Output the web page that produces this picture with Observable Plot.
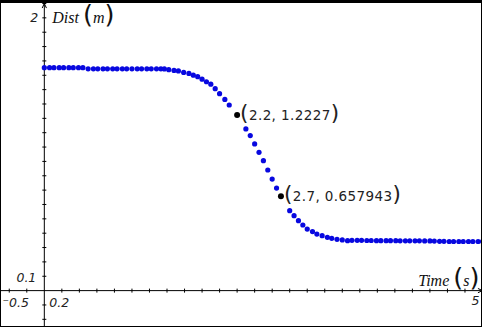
<!DOCTYPE html>
<html><head><meta charset="utf-8">
<script src="https://cdn.jsdelivr.net/npm/d3@7"></script>
<script src="https://cdn.jsdelivr.net/npm/@observablehq/plot@0.6"></script>
<style>
html,body{margin:0;padding:0;background:#fff;}
#wrap{position:relative;width:482px;height:327px;overflow:hidden;}
#frame{position:absolute;left:0;top:0;right:0;bottom:0;border:1px solid #000;border-top:3px solid #000;pointer-events:none;}
</style></head><body><div id="wrap"><div id="chart"></div><div id="frame"></div></div>
<script>
// Motion-detector samples: time (s) and distance (m)
const time = [0, 0.06, 0.11, 0.17, 0.22, 0.28, 0.33, 0.39, 0.44,
  0.5, 0.56, 0.61, 0.67, 0.72, 0.78, 0.83, 0.89, 0.94, 1.0, 1.06, 1.11, 1.17, 1.22, 1.28, 1.33, 1.37,
  1.42, 1.48, 1.53, 1.59, 1.65, 1.70, 1.75, 1.80, 1.85, 1.90, 1.95, 2.00, 2.06, 2.11,
  2.30, 2.35, 2.40, 2.45, 2.50, 2.55, 2.60, 2.65,
  2.80, 2.85, 2.90, 2.95, 3.00, 3.06, 3.11, 3.17, 3.23, 3.28, 3.34, 3.40, 3.46,
  3.51, 3.57, 3.62, 3.68, 3.73, 3.79, 3.84, 3.90, 3.95, 4.01, 4.06, 4.12, 4.17, 4.23, 4.28, 4.34, 4.40,
  4.45, 4.51, 4.56, 4.62, 4.67, 4.73, 4.78, 4.84, 4.89, 4.95, 5.00];
const dist = [1.553, 1.553, 1.553, 1.553, 1.553, 1.553, 1.553, 1.553, 1.553,
  1.545, 1.545, 1.545, 1.545, 1.545, 1.545, 1.545, 1.545, 1.545, 1.545, 1.545, 1.545, 1.545, 1.545, 1.545, 1.545, 1.544,
  1.539, 1.534, 1.530, 1.520, 1.513, 1.501, 1.490, 1.473, 1.455, 1.438, 1.407, 1.372, 1.332, 1.293,
  1.126, 1.080, 1.022, 0.963, 0.905, 0.840, 0.777, 0.714,
  0.557, 0.522, 0.487, 0.457, 0.429, 0.411, 0.394, 0.383, 0.371, 0.364, 0.357, 0.353, 0.348,
  0.350, 0.350, 0.350, 0.349, 0.349, 0.348, 0.348, 0.348, 0.348, 0.348, 0.347, 0.347, 0.347, 0.347, 0.347, 0.346, 0.346,
  0.345, 0.343, 0.343, 0.342, 0.342, 0.342, 0.342, 0.342, 0.342, 0.342, 0.342];
// Traced points
const markedTime = [2.2, 2.7];
const markedDist = [1.2227, 0.657943];
const markedLabel = ["(2.2, 1.2227)", "(2.7, 0.657943)"];
// Window settings
const xWindow = [-0.5, 5];
const yWindow = [-0.25, 2];
const xScaleStep = 0.2;
const yScaleStep = 0.1;
const xLabel = "Time (s)";
const yLabel = "Dist (m)";

const samples = time.map((t, i) => ({t, d: dist[i]}));
const marked = markedTime.map((t, i) => ({t, d: markedDist[i], label: markedLabel[i]}));
const xTicks = d3.range(Math.ceil(xWindow[0] / xScaleStep), Math.floor(xWindow[1] / xScaleStep) + 1).map(k => +(k * xScaleStep).toFixed(3)).filter(v => v !== 0);
const yTicks = d3.range(Math.ceil(yWindow[0] / yScaleStep), Math.floor(yWindow[1] / yScaleStep) + 1).map(k => +(k * yScaleStep).toFixed(3)).filter(v => v !== 0);

const vTick = {draw(ctx) { ctx.moveTo(0, -2); ctx.lineTo(0, 2); }};
const hTick = {draw(ctx) { ctx.moveTo(-2, 0); ctx.lineTo(2, 0); }};

const numFont = {fontFamily: "DejaVu Sans", fontStyle: "italic", fontSize: 12.5, fill: "#222"};
const nameFont = {fontFamily: "Liberation Serif", fontStyle: "italic", fontSize: 16, fill: "#111"};

const axisLabels = [
  {x: 0, y: yWindow[1], text: String(yWindow[1]), dx: -6, dy: 14, anchor: "end", f: numFont},
  {x: 0, y: yWindow[1], text: yLabel, dx: 8, dy: 14, anchor: "start", f: nameFont},
  {x: 0, y: 0, text: String(yScaleStep), dx: -8, dy: -13, anchor: "end", f: numFont},
  {x: xWindow[0], y: 0, text: "\u207B" + String(-xWindow[0]), dx: 2, dy: 12, anchor: "start", f: numFont},
  {x: 0, y: 0, text: String(xScaleStep), dx: 5, dy: 12, anchor: "start", f: numFont},
  {x: xWindow[1], y: 0, text: xLabel, dx: -3, dy: -10, anchor: "end", f: nameFont},
  {x: xWindow[1], y: 0, text: String(xWindow[1]), dx: -3, dy: 10, anchor: "end", f: numFont}
];

const plot = Plot.plot({
  width: 482, height: 327,
  marginLeft: 0, marginRight: 0, marginTop: 3, marginBottom: 1,
  x: {domain: xWindow, axis: null},
  y: {domain: yWindow, axis: null},
  style: {background: "#fff", overflow: "visible"},
  marks: [
    Plot.arrow([0], {x1: xWindow[0], y1: 0, x2: xWindow[1], y2: 0, stroke: "#000", strokeWidth: 1, headLength: 7, headAngle: 50}),
    Plot.arrow([0], {x1: 0, y1: yWindow[0], x2: 0, y2: yWindow[1], stroke: "#000", strokeWidth: 1, headLength: 7, headAngle: 50}),
    Plot.dot(xTicks, {x: d => d, y: () => 0, symbol: vTick, stroke: "#000", strokeWidth: 1, r: 2}),
    Plot.dot(yTicks, {x: () => 0, y: d => d, symbol: hTick, stroke: "#000", strokeWidth: 1, r: 2}),
    Plot.dot(samples, {x: "t", y: "d", r: 2.6, fill: "#0808e0", stroke: null}),
    Plot.dot(marked, {x: "t", y: "d", r: 3, fill: "#000"}),
    Plot.text(marked, {x: "t", y: "d", text: "label", dx: 3, dy: 1, textAnchor: "start", fontFamily: "DejaVu Sans", fontSize: 13.5, fill: "#222", className: "coord"}),
    ...axisLabels.map(l => Plot.text([l], {x: "x", y: "y", text: "text", dx: l.dx, dy: l.dy, textAnchor: l.anchor, ...l.f}))
  ]
});
document.getElementById("chart").appendChild(plot);

// TI-style tall parentheses and spaced coordinates
const ns = "http://www.w3.org/2000/svg";
plot.querySelectorAll("g.coord text").forEach(t => t.setAttribute("letter-spacing", "0.4"));
plot.querySelectorAll("text").forEach(t => {
  const s = t.textContent;
  if (!/[()]/.test(s)) return;
  while (t.firstChild) t.removeChild(t.firstChild);
  s.split(/([()])/).filter(Boolean).forEach(part => {
    const ts = document.createElementNS(ns, "tspan");
    ts.textContent = part;
    if (part === "(" || part === ")") {
      ts.setAttribute("font-size", "1.6em");
      ts.setAttribute("font-style", "normal");
      ts.setAttribute("font-family", "DejaVu Sans ExtraLight, DejaVu Sans");
    }
    t.appendChild(ts);
  });
});
</script>
</body></html>
